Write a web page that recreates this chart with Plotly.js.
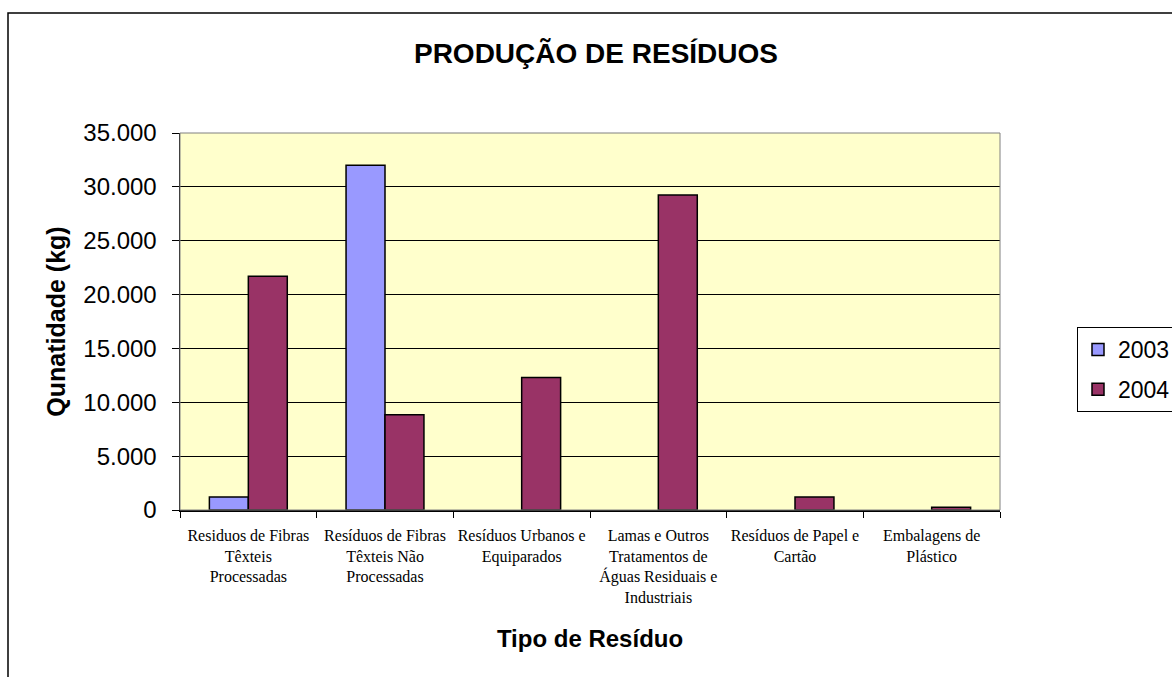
<!DOCTYPE html>
<html>
<head>
<meta charset="utf-8">
<script src="https://cdn.plot.ly/plotly-3.0.1.min.js"></script>
<style>
html,body{margin:0;padding:0;background:#fff;}
#chart{width:1172px;height:677px;}
</style>
</head>
<body>
<div id="chart"></div>
<script>
const categories = [
  'Residuos de Fibras Têxteis Processadas',
  'Resíduos de Fibras Têxteis Não Processadas',
  'Resíduos Urbanos e Equiparados',
  'Lamas e Outros Tratamentos de Águas Residuais e Industriais',
  'Resíduos de Papel e Cartão',
  'Embalagens de Plástico'
];
const tickLabels = [
  'Residuos de Fibras<br>Têxteis<br>Processadas',
  'Resíduos de Fibras<br>Têxteis Não<br>Processadas',
  'Resíduos Urbanos e<br>Equiparados',
  'Lamas e Outros<br>Tratamentos de<br>Águas Residuais e<br>Industriais',
  'Resíduos de Papel e<br>Cartão',
  'Embalagens de<br>Plástico'
];
const values2003 = [1200, 32000, null, null, null, null];
const values2004 = [21700, 8850, 12300, 29250, 1200, 250];
const yTicks = [0, 5000, 10000, 15000, 20000, 25000, 30000, 35000];

const traces = [
  {type:'bar', name:'2003', x:categories, y:values2003, legendgroup:'a',
   marker:{color:'#9999FF', line:{color:'#000', width:1.5}}},
  {type:'bar', name:'2004', x:categories, y:values2004, legendgroup:'b',
   marker:{color:'#993366', line:{color:'#000', width:1.5}}}
];

const L = 180, R = 1000, T = 133, B = 510;
function px(x){ return (x - L) / (R - L); }
function py(y){ return (B - y) / (B - T); }

const layout = {
  width:1172, height:677,
  margin:{l:L, r:1172-R, t:T, b:677-B, pad:0, autoexpand:false},
  paper_bgcolor:'#ffffff',
  plot_bgcolor:'#FFFFCC',
  separators:',.',
  barmode:'group', bargap:0.43, bargroupgap:0,
  font:{family:'Liberation Sans, Arial, sans-serif', color:'#000'},
  title:{text:'<b>PRODUÇÃO DE RESÍDUOS</b>', font:{size:28, family:'Liberation Sans, Arial, sans-serif', color:'#000'},
         x:(596)/1172, xref:'container', xanchor:'center', y:1-53/677, yanchor:'middle'},
  xaxis:{
    type:'category', tickvals:categories, ticktext:tickLabels, tickangle:0,
    tickson:'boundaries', ticks:'outside', ticklen:6, tickcolor:'#000', tickwidth:1,
    showline:true, linecolor:'#000', linewidth:1.5,
    tickfont:{family:'Liberation Serif, Times New Roman, serif', size:16, color:'#000'},
    ticklabelstandoff:10,
    title:{text:'<b>Tipo de Resíduo</b>', font:{size:24, family:'Liberation Sans, Arial, sans-serif'}, standoff:25},
    automargin:false, fixedrange:true
  },
  yaxis:{
    range:[0,35000], tickvals:yTicks, tickformat:',d',
    ticks:'outside', ticklen:7, tickcolor:'#000', tickwidth:1,
    showgrid:true, gridcolor:'#000', gridwidth:1,
    showline:true, linecolor:'#000', linewidth:1.5,
    zeroline:false,
    tickfont:{size:24, family:'Liberation Sans, Arial, sans-serif', color:'#000'},
    ticklabelstandoff:10,
    title:{text:'<b>Qunatidade (kg)</b>', font:{size:25, family:'Liberation Sans, Arial, sans-serif'}, standoff:10},
    automargin:false, fixedrange:true
  },
  showlegend:true,
  legend:{
    x:px(1077), xanchor:'left', y:py(327), yanchor:'top',
    bordercolor:'#000', borderwidth:1, bgcolor:'#fff',
    font:{size:23, family:'Liberation Sans, Arial, sans-serif', color:'#000'},
    traceorder:'grouped', tracegroupgap:7, itemwidth:30
  },
  shapes:[
    {type:'rect', xref:'paper', yref:'paper', x0:px(8), y0:py(700), x1:px(1200), y1:py(13),
     line:{color:'#000', width:1.5}, fillcolor:'rgba(0,0,0,0)', layer:'below'},
    {type:'rect', xref:'paper', yref:'paper', x0:0, y0:0, x1:1, y1:1,
     line:{color:'#808080', width:1}, fillcolor:'rgba(0,0,0,0)', layer:'above'}
  ]
};

Plotly.newPlot('chart', traces, layout, {displayModeBar:false, staticPlot:true});
</script>
</body>
</html>
